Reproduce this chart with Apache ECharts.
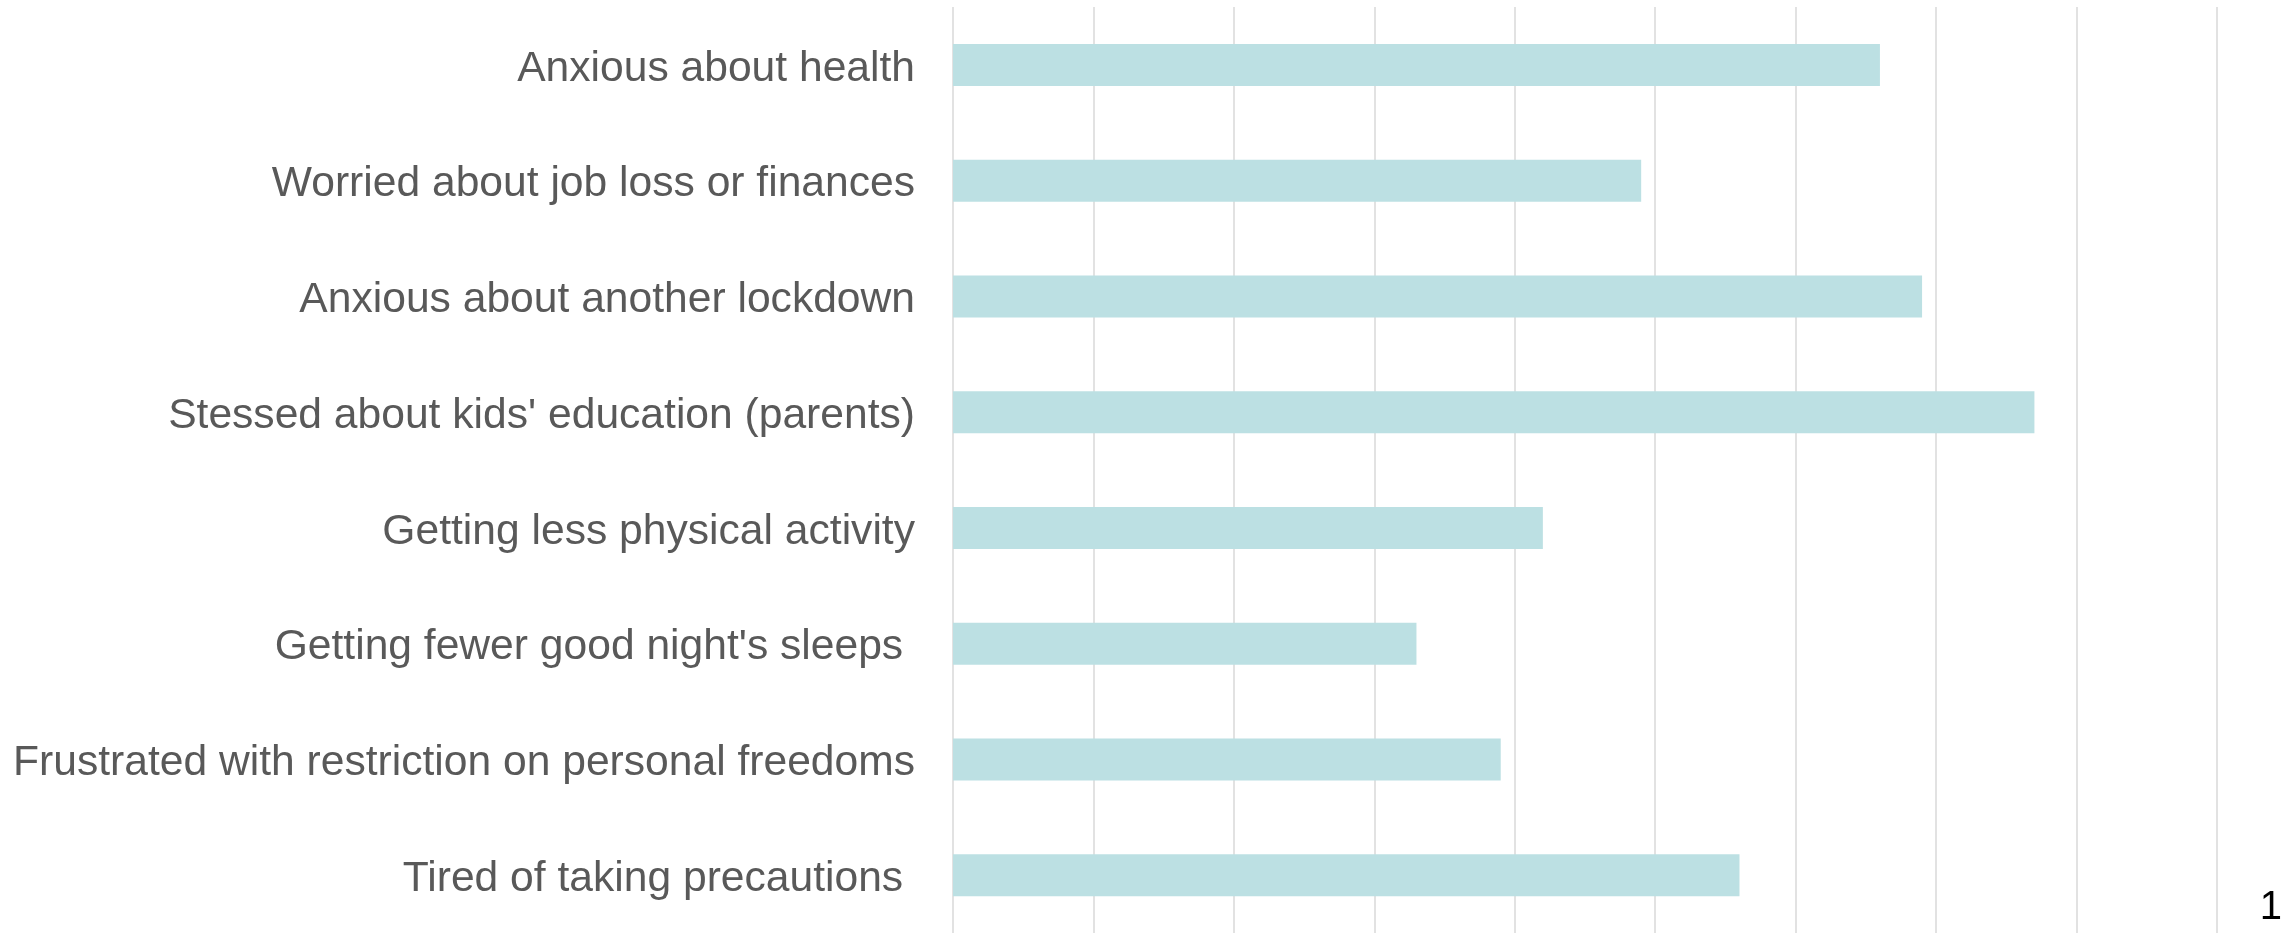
<!DOCTYPE html>
<html>
<head>
<meta charset="utf-8">
<script src="https://cdn.jsdelivr.net/npm/echarts@6/dist/echarts.min.js"></script>
<style>
html,body{margin:0;padding:0;background:#fff;}
#chart{width:2285px;height:933px;}
</style>
</head>
<body>
<div id="chart"></div>
<script>
const categories = [
  "Anxious about health",
  "Worried about job loss or finances",
  "Anxious about another lockdown",
  "Stessed about kids' education (parents)",
  "Getting less physical activity",
  "Getting fewer good night's sleeps ",
  "Frustrated with restriction on personal freedoms",
  "Tired of taking precautions "
];
const values = [6.6, 4.9, 6.9, 7.7, 4.2, 3.3, 3.9, 5.6];
const cornerText = "1";

const chart = echarts.init(document.getElementById('chart'), null, {renderer: 'canvas'});
chart.setOption({
  animation: false,
  backgroundColor: '#ffffff',
  grid: {left: 953, top: 7, width: 1264, height: 930, containLabel: false},
  xAxis: {
    type: 'value', min: 0, max: 9, interval: 1,
    axisLine: {show: false}, axisTick: {show: false}, axisLabel: {show: false},
    splitLine: {show: true, lineStyle: {color: '#d9d9d9', width: 1.5}}
  },
  yAxis: {
    type: 'category', data: categories, inverse: true,
    axisLine: {show: false}, axisTick: {show: false},
    splitLine: {show: false},
    axisLabel: {
      margin: 38,
      formatter: function (v) { return '{a|' + v + '}'; },
      rich: {
        a: {
          color: '#595959', fontSize: 42.6, lineHeight: 50,
          padding: [8, 0, 0, 0],
          fontFamily: '"Liberation Sans", Arial, sans-serif'
        }
      }
    }
  },
  series: [{
    type: 'bar', data: values, barWidth: 42,
    itemStyle: {color: '#bce0e3'}
  }],
  graphic: [{
    type: 'text', right: 3, bottom: 5,
    style: {text: cornerText, fill: '#000000', font: '40px "Liberation Sans", Arial, sans-serif'}
  }]
});
</script>
</body>
</html>
